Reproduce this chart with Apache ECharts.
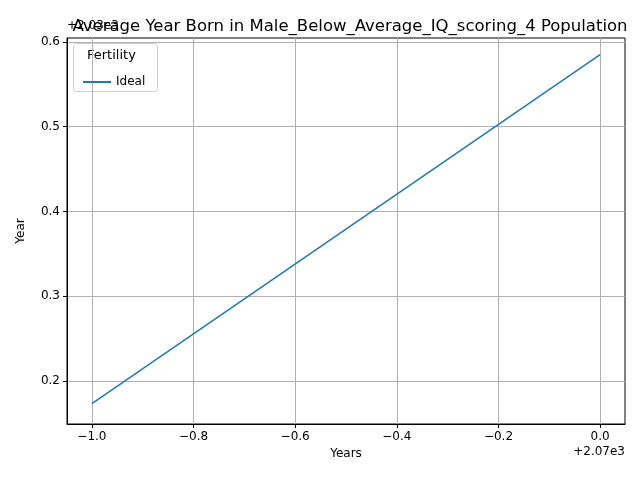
<!DOCTYPE html>
<html><head><meta charset="utf-8">
<script src="https://cdn.jsdelivr.net/npm/echarts@6/dist/echarts.min.js"></script>
<style>body{margin:0}#main{width:640px;height:480px}</style>
</head><body><div id="main"></div>
<script>
var years = [-1.0, 0.0];          // offset from 2070
var bornIdeal = [0.173, 0.585];   // offset from 2030
var xTicks = [-1.0, -0.8, -0.6, -0.4, -0.2, 0.0];
var yTicks = [0.2, 0.3, 0.4, 0.5, 0.6];

function fmt(v) { return (v < 0 ? '\u2212' : '') + Math.abs(v).toFixed(1); }

var chart = echarts.init(document.getElementById('main'));
var font = 'DejaVu Sans';
chart.setOption({
    animation: false,
    textStyle: { fontFamily: font },
    title: {
        text: 'Average Year Born in Male_Below_Average_IQ_scoring_4 Population',
        left: 345, top: 13, textAlign: 'center',
        textStyle: { fontSize: 16.5, fontWeight: 'normal', color: '#000', fontFamily: font }
    },
    grid: { left: 67, right: 15, top: 38, bottom: 56, show: true, borderColor: '#000', borderWidth: 1 },
    xAxis: {
        type: 'value', min: -1.049, max: 0.049,
        name: 'Years', nameLocation: 'middle', nameGap: 22,
        nameTextStyle: { fontSize: 12, color: '#000' },
        axisLine: { onZero: false, lineStyle: { color: '#000' } },
        axisTick: { customValues: xTicks, length: 4, lineStyle: { color: '#000' } },
        axisLabel: { customValues: xTicks, formatter: fmt, color: '#000', fontSize: 12, margin: 7 },
        splitLine: { show: true, lineStyle: { color: '#b0b0b0' } }
    },
    yAxis: {
        type: 'value', min: 0.149, max: 0.6047,
        name: 'Year', nameLocation: 'middle', nameGap: 40,
        nameTextStyle: { fontSize: 12, color: '#000' },
        axisLine: { show: true, onZero: false, lineStyle: { color: '#000' } },
        axisTick: { show: true, customValues: yTicks, length: 4, lineStyle: { color: '#000' } },
        axisLabel: { customValues: yTicks, formatter: function (v) { return v.toFixed(1); }, color: '#000', fontSize: 12, margin: 7 },
        splitLine: { show: true, lineStyle: { color: '#b0b0b0' } }
    },
    legend: {
        left: 78, top: 71, itemWidth: 28, itemHeight: 2, icon: 'rect',
        textStyle: { fontSize: 12, color: '#000' },
        data: ['Ideal']
    },
    graphic: [
        { type: 'rect', left: 73, top: 43, shape: { width: 84, height: 48, r: 3 },
          style: { fill: 'rgba(255,255,255,0.8)', stroke: '#ccc' }, z: 0 },
        { type: 'text', left: 87, top: 49, style: { text: 'Fertility', fill: '#000', font: '13px DejaVu Sans' } },
        { type: 'text', left: 67, top: 20, style: { text: '+2.03e3', font: '12px DejaVu Sans', fill: '#000' } },
        { type: 'text', right: 15, top: 446, style: { text: '+2.07e3', font: '12px DejaVu Sans', fill: '#000' } }
    ],
    series: [{
        name: 'Ideal', type: 'line', showSymbol: false,
        color: '#1f77b4', lineStyle: { width: 1.5 },
        data: years.map(function (x, i) { return [x, bornIdeal[i]]; })
    }]
});
</script></body></html>
